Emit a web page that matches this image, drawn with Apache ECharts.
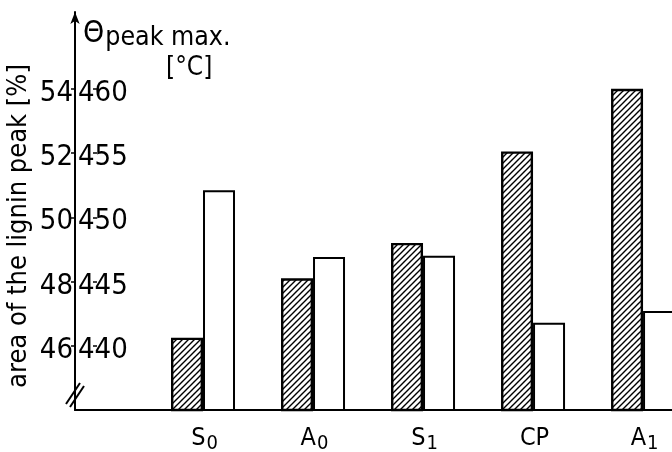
<!DOCTYPE html>
<html>
<head>
<meta charset="utf-8">
<script src="https://cdn.jsdelivr.net/npm/echarts@6/dist/echarts.min.js"></script>
<style>
  html, body { margin: 0; padding: 0; background: #fff; }
  #chart { width: 672px; height: 452px; }
</style>
</head>
<body>
<div id="chart"></div>
<script>
// Samples: main letter + subscript
const catMain = ['S', 'A', 'S', 'CP', 'A'];
const catSub = ['0', '0', '1', '', '1'];
const catPos = [1, 2, 3, 4, 5];

// Area of the lignin peak [%] (hatched bars)
const areaPeak = [46.25, 48.1, 49.2, 52.05, 54.0];
// Temperature of the peak maximum [°C] (open bars)
const tempPeak = [452.1, 446.9, 447.0, 441.8, 442.7];

const areaTicks = [46, 48, 50, 52, 54];
const tempTicks = [440, 445, 450, 455, 460];

const FONT = '"Liberation Sans Narrow", "DejaVu Sans Condensed", "Liberation Sans", sans-serif';

// Diagonal hatch tile for the area bars
function hatchPattern(size, width) {
  const c = document.createElement('canvas');
  c.width = size; c.height = size;
  const g = c.getContext('2d');
  g.fillStyle = '#fff';
  g.fillRect(0, 0, size, size);
  g.strokeStyle = '#000';
  g.lineWidth = width;
  g.beginPath();
  g.moveTo(-1, size + 1); g.lineTo(size + 1, -1);
  g.moveTo(-1, 1); g.lineTo(1, -1);
  g.moveTo(size - 1, size + 1); g.lineTo(size + 1, size - 1);
  g.stroke();
  return c;
}

const chart = echarts.init(document.getElementById('chart'));

const pairs = (vals) => vals.map((v, i) => [catPos[i], v]);
const X_MIN = -0.1636;

// Tick numbers sit slightly below their tick marks
const tickLabelRich = { v: { fontFamily: FONT, fontSize: 29, color: '#000', padding: [9, 0, 0, 0] } };

chart.setOption({
  animation: false,
  backgroundColor: '#fff',
  grid: { left: 75, right: -20, top: 12, bottom: 42, containLabel: false, outerBoundsMode: 'none' },
  xAxis: {
    type: 'value',
    min: X_MIN,
    max: 5.445,
    splitLine: { show: false },
    axisTick: { show: false },
    axisLine: { show: true, onZero: false, lineStyle: { color: '#000', width: 2 } },
    axisLabel: {
      customValues: catPos,
      margin: 12,
      formatter: (v) => {
        const i = Math.round(v) - 1;
        return '{m|' + catMain[i] + '}' + (catSub[i] ? '{s|' + catSub[i] + '}' : '{e|\u200b}');
      },
      rich: {
        m: { fontFamily: FONT, fontSize: 25, color: '#000', padding: [0, 0, 0, 3] },
        s: { fontFamily: FONT, fontSize: 20, color: '#000', padding: [12, 0, 0, 1] },
        e: { fontFamily: FONT, fontSize: 20, color: '#000', padding: [12, 0, 0, 0] }
      }
    }
  },
  yAxis: [
    {
      type: 'value',
      position: 'left',
      min: 44,
      max: 56.39,
      splitLine: { show: false },
      axisLine: {
        show: true, onZero: false,
        symbol: ['none', 'arrow'], symbolSize: [7, 12],
        lineStyle: { color: '#000', width: 2 }
      },
      axisTick: { show: true, customValues: areaTicks, length: 4, lineStyle: { color: '#000', width: 1.5 } },
      axisLabel: { customValues: areaTicks, margin: 2, formatter: '{v|{value}}', rich: tickLabelRich }
    },
    {
      type: 'value',
      position: 'left',
      min: 435,
      max: 465.975,
      splitLine: { show: false },
      axisLine: { show: false },
      axisTick: { show: true, inside: true, customValues: tempTicks, length: 4, lineStyle: { color: '#000', width: 1.5 } },
      axisLabel: { inside: true, customValues: tempTicks, margin: 3, formatter: '{v|{value}}', rich: tickLabelRich }
    }
  ],
  series: [
    {
      type: 'bar',
      yAxisIndex: 0,
      barWidth: 32,
      barGap: '0%',
      data: pairs(areaPeak),
      itemStyle: {
        color: { image: hatchPattern(6, 1.4), repeat: 'repeat' },
        borderColor: '#000',
        borderWidth: 2.4
      }
    },
    {
      type: 'bar',
      yAxisIndex: 1,
      barWidth: 32,
      barGap: '0%',
      data: pairs(tempPeak),
      itemStyle: { color: '#fff', borderColor: '#000', borderWidth: 2 }
    }
  ]
});

// Axis name, temperature label and axis-break marks
const origin = chart.convertToPixel({ xAxisIndex: 0, yAxisIndex: 0 }, [X_MIN, 44]);
const ox = origin[0], oy = origin[1];

chart.setOption({
  graphic: [
    {
      type: 'text',
      x: 19, y: 226,
      rotation: Math.PI / 2,
      style: {
        text: 'area of the lignin peak [%]',
        fontFamily: FONT, fontSize: 27, fill: '#000',
        align: 'center', verticalAlign: 'middle'
      }
    },
    {
      type: 'text',
      x: 83, y: 16,
      style: {
        text: '{t|Θ}{p|peak max.}',
        rich: {
          t: { fontFamily: FONT, fontSize: 30, fill: '#000' },
          p: { fontFamily: FONT, fontSize: 26.5, fill: '#000', padding: [9, 0, 0, 1] }
        }
      }
    },
    {
      type: 'text',
      x: 166, y: 55,
      style: { text: '[°C]', fontFamily: FONT, fontSize: 26, fill: '#000' }
    },
    {
      type: 'group',
      children: [
        { type: 'line', shape: { x1: ox - 9, y1: oy - 6, x2: ox + 5, y2: oy - 27 }, style: { stroke: '#000', lineWidth: 2 } },
        { type: 'line', shape: { x1: ox - 5, y1: oy - 3, x2: ox + 9, y2: oy - 24 }, style: { stroke: '#000', lineWidth: 2 } }
      ]
    }
  ]
});
</script>
</body>
</html>
